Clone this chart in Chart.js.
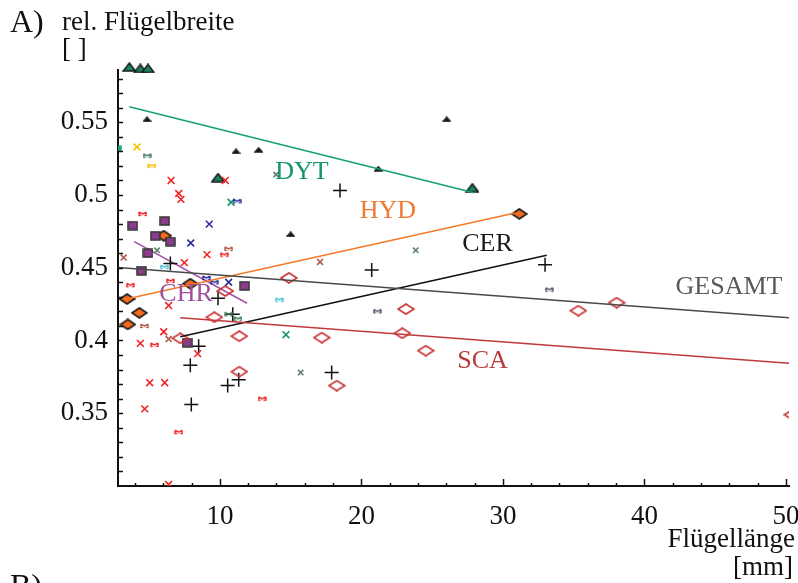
<!DOCTYPE html>
<html lang="de">
<head>
<meta charset="UTF-8">
<title>Relative Flügelbreite gegen Flügellänge</title>
<style>
    * { margin: 0; padding: 0; box-sizing: border-box; }
    body { background: #fff; width: 798px; height: 583px; overflow: hidden; }
    #wrap { position: relative; width: 798px; height: 583px; }
</style>
</head>
<body>
<div id="wrap"><canvas id="wingChart" width="798" height="583"></canvas></div>

<script src="https://cdn.jsdelivr.net/npm/chart.js"></script>
<script>
// Messwerte je Gruppe: [Flügellänge in mm, relative Flügelbreite]
const dytPoints = [[3.60, 0.588], [4.38, 0.587], [4.92, 0.587], [9.87, 0.512], [27.84, 0.505]];
const dytSmall = [[4.85, 0.552], [11.14, 0.530], [12.74, 0.531], [21.20, 0.518], [26.03, 0.552], [15.00, 0.473]];
const dytEdge = [[2.85, 0.532]];
const hydPoints = [[6.03, 0.472], [7.91, 0.439], [3.44, 0.4285], [4.31, 0.419], [3.49, 0.411], [31.16, 0.487]];
const chrPoints = [[3.84, 0.479], [6.10, 0.482], [5.44, 0.472], [6.50, 0.468], [4.92, 0.460], [4.45, 0.448], [11.75, 0.4375], [7.68, 0.3985]];
const cerPoints = [[6.50, 0.453], [9.87, 0.429], [10.91, 0.418], [8.50, 0.396], [7.91, 0.383], [10.55, 0.369], [11.33, 0.373],
                   [7.98, 0.356], [18.49, 0.503], [20.73, 0.4485], [32.98, 0.452], [17.90, 0.378]];
const scaPoints = [[7.20, 0.4015], [9.61, 0.416], [10.38, 0.434], [11.37, 0.403], [11.37, 0.3786], [14.88, 0.443], [17.20, 0.402],
                   [18.26, 0.369], [22.89, 0.405], [23.15, 0.4216], [24.55, 0.393], [35.33, 0.4205], [38.04, 0.426], [50.45, 0.349]];

// übrige Arten ohne eigene Regressionsgerade
const redCross = [[6.55, 0.510], [10.38, 0.510], [7.09, 0.501], [7.25, 0.497], [9.09, 0.459], [7.49, 0.4535], [6.38, 0.424],
                  [6.03, 0.406], [4.38, 0.398], [8.43, 0.391], [5.04, 0.371], [6.10, 0.371], [4.69, 0.353], [6.38, 0.301]];
const redBow = [[4.55, 0.487], [10.31, 0.459], [3.67, 0.438], [6.50, 0.441], [5.37, 0.397], [7.09, 0.337], [12.98, 0.360]];
const blueCross = [[9.25, 0.480], [7.94, 0.467], [10.62, 0.440]];
const blueBow = [[11.21, 0.4957], [9.04, 0.443], [9.61, 0.440]];
const yellowCross = [[4.14, 0.533]];
const yellowBow = [[5.20, 0.520]];
const greenCross = [[10.79, 0.495], [14.67, 0.404]];
const greyGreenCross = [[13.97, 0.514], [5.56, 0.462], [23.84, 0.462], [15.71, 0.378]];
const greenBow = [[10.62, 0.418], [11.28, 0.415], [4.85, 0.527]];
const brownCross = [[3.20, 0.457], [17.08, 0.454], [6.38, 0.401]];
const brownBow = [[10.62, 0.463], [4.66, 0.410]];
const cyanBow = [[6.07, 0.4505], [14.20, 0.428]];
const greyBow = [[21.13, 0.420], [33.28, 0.435]];

// Regressionsgeraden (Anfangs- und Endpunkt)
const lineDyt = [[3.60, 0.5607], [27.96, 0.5016]];
const lineHyd = [[3.32, 0.4283], [30.86, 0.4876]];
const lineCer = [[7.20, 0.4026], [33.10, 0.4586]];
const lineChr = [[3.95, 0.4679], [11.92, 0.4256]];
const lineSca = [[7.20, 0.4157], [50.22, 0.3843]];
const lineGesamt = [[2.80, 0.4502], [50.22, 0.4157]];

// Teilstriche: x alle 2 mm, y alle 0.01
const xTickValues = [4, 6, 8, 10, 12, 14, 16, 18, 20, 22, 24, 26, 28, 30, 32, 34, 36, 38, 40, 42, 44, 46, 48, 50];
const yTickValues = [0.31, 0.32, 0.33, 0.34, 0.35, 0.36, 0.37, 0.38, 0.39, 0.40, 0.41, 0.42, 0.43, 0.44,
                     0.45, 0.46, 0.47, 0.48, 0.49, 0.50, 0.51, 0.52, 0.53, 0.54, 0.55, 0.56, 0.57, 0.58];

const xy = arr => arr.map(p => ({ x: p[0], y: p[1] }));

// kleine Symbole als Canvas, damit sie breiter als hoch sein können
function marker(w, h, draw) {
    const c = document.createElement('canvas');
    c.width = w;
    c.height = h;
    draw(c.getContext('2d'), w, h);
    return c;
}
function triangle(w, h, fill, stroke) {
    return marker(w, h, (g) => {
        g.beginPath();
        g.moveTo(w / 2, 1);
        g.lineTo(w - 1, h - 1);
        g.lineTo(1, h - 1);
        g.closePath();
        g.fillStyle = fill;
        g.fill();
        g.lineWidth = 1.5;
        g.strokeStyle = stroke;
        g.stroke();
    });
}
function diamond(w, h, fill, stroke) {
    return marker(w, h, (g) => {
        g.beginPath();
        g.moveTo(w / 2, 1);
        g.lineTo(w - 1, h / 2);
        g.lineTo(w / 2, h - 1);
        g.lineTo(1, h / 2);
        g.closePath();
        if (fill) { g.fillStyle = fill; g.fill(); }
        g.lineWidth = 1.6;
        g.strokeStyle = stroke;
        g.stroke();
    });
}
function square(w, h, fill, stroke) {
    return marker(w, h, (g) => {
        g.fillStyle = fill;
        g.fillRect(1, 1, w - 2, h - 2);
        g.lineWidth = 1.5;
        g.strokeStyle = stroke;
        g.strokeRect(1, 1, w - 2, h - 2);
    });
}
function bowtie(color) {
    return marker(9, 6, (g, w, h) => {
        g.strokeStyle = color;
        g.lineWidth = 1.4;
        g.beginPath();
        g.moveTo(1, 1); g.lineTo(w - 1, h - 1);
        g.moveTo(1, h - 1); g.lineTo(w - 1, 1);
        g.moveTo(1, 1); g.lineTo(1, h - 1);
        g.moveTo(w - 1, 1); g.lineTo(w - 1, h - 1);
        g.stroke();
    });
}

function pts(data, style, extra) {
    return Object.assign({ data: xy(data), pointStyle: style, pointRadius: 5, showLine: false }, extra || {});
}
function cross(data, color, radius) {
    return pts(data, 'crossRot', { pointRadius: radius || 5, borderColor: color, borderWidth: 1.6 });
}
function regLine(data, color) {
    return { data: xy(data), showLine: true, pointRadius: 0, borderColor: color, borderWidth: 1.5, clip: 0 };
}

const serif = '"Liberation Serif", "DejaVu Serif", serif';

// inwärts gerichtete Teilstriche an beiden Achsen
const inwardTicks = {
    id: 'inwardTicks',
    afterDraw(chart) {
        const { ctx, chartArea: a, scales: { x, y } } = chart;
        ctx.save();
        ctx.strokeStyle = '#111';
        ctx.lineWidth = 1.5;
        xTickValues.forEach(v => {
            const px = Math.round(x.getPixelForValue(v)) + 0.5;
            const len = v % 10 === 0 ? 7 : 3;
            ctx.beginPath();
            ctx.moveTo(px, a.bottom);
            ctx.lineTo(px, a.bottom - len);
            ctx.stroke();
        });
        yTickValues.forEach(v => {
            const py = Math.round(y.getPixelForValue(v)) + 0.5;
            ctx.beginPath();
            ctx.moveTo(a.left, py);
            ctx.lineTo(a.left + 5, py);
            ctx.stroke();
        });
        ctx.restore();
    }
};

// Gruppennamen an den Geraden und Achsenbeschriftung
const groupLabels = [
    { text: 'DYT', x: 15.80, y: 0.5158, color: '#14956b' },
    { text: 'HYD', x: 21.88, y: 0.4890, color: '#f07a30' },
    { text: 'CER', x: 28.91, y: 0.4663, color: '#1a1a1a' },
    { text: 'GESAMT', x: 45.98, y: 0.4368, color: '#5a5a5a' },
    { text: 'SCA', x: 28.56, y: 0.3859, color: '#b83a3a' },
    { text: 'CHR', x: 7.61, y: 0.4320, color: '#a0509e' }
];
const textLayer = {
    id: 'textLayer',
    afterDraw(chart) {
        const { ctx, scales: { x, y } } = chart;
        ctx.save();
        ctx.textBaseline = 'middle';
        ctx.textAlign = 'center';
        ctx.font = '26px ' + serif;
        groupLabels.forEach(l => {
            ctx.fillStyle = l.color;
            ctx.fillText(l.text, x.getPixelForValue(l.x), y.getPixelForValue(l.y));
        });
        ctx.fillStyle = '#111';
        ctx.textBaseline = 'alphabetic';
        ctx.textAlign = 'left';
        ctx.font = '32px ' + serif;
        ctx.fillText('A)', 10, 32);
        ctx.fillText('B)', 10, 596);
        ctx.font = '27px ' + serif;
        ctx.fillText('rel. Flügelbreite', 62, 30);
        ctx.fillText('[ ]', 62, 57);
        ctx.textAlign = 'right';
        ctx.fillText('Flügellänge', 795, 547);
        ctx.fillText('[mm]', 793, 575);
        ctx.restore();
    }
};

const ctx = document.getElementById('wingChart').getContext('2d');
new Chart(ctx, {
    type: 'scatter',
    data: {
        datasets: [
            regLine(lineGesamt, '#4a4a4a'),
            regLine(lineSca, '#c03838'),
            regLine(lineCer, '#111111'),
            regLine(lineHyd, '#f47a28'),
            regLine(lineDyt, '#14a070'),
            cross(redCross, '#f02424', 4.8),
            pts(redBow, bowtie('#f02424')),
            cross(blueCross, '#2c2c9c', 4.8),
            pts(blueBow, bowtie('#2c2c9c')),
            cross(yellowCross, '#f4c400', 4.8),
            pts(yellowBow, bowtie('#f4c400')),
            cross(greenCross, '#16956a', 4.8),
            cross(greyGreenCross, '#5f7f6c', 3.8),
            pts(greenBow, bowtie('#3f7a5a')),
            cross(brownCross, '#b0584a', 4.2),
            pts(brownBow, bowtie('#b0584a')),
            pts(cyanBow, bowtie('#4cc4d8')),
            pts(greyBow, bowtie('#55556a')),
            pts(scaPoints, diamond(18, 12, null, '#c83232'), { clip: 0 }),
            pts(chrPoints, square(11, 10, '#8c3c8c', '#333333')),
            pts(hydPoints, diamond(17, 12, '#f26b1d', '#1a1a1a')),
            pts(cerPoints, 'cross', { pointRadius: 7, borderColor: '#111', borderWidth: 1.5 }),
            pts(dytSmall, triangle(9, 6, '#1a1a1a', '#1a1a1a')),
            pts(dytEdge, square(6, 6, '#18a070', '#18a070')),
            pts(dytPoints, triangle(14, 10, '#17865e', '#1a1a1a'), { clip: false }),
            regLine(lineChr, '#a050a8')
        ]
    },
    options: {
        responsive: false,
        animation: false,
        devicePixelRatio: 1,
        layout: { padding: { top: 70, right: 9, left: 0, bottom: 0 } },
        plugins: { legend: { display: false }, tooltip: { enabled: false } },
        scales: {
            x: {
                type: 'linear',
                min: 2.8,
                max: 50.22,
                afterBuildTicks: s => { s.ticks = xTickValues.map(v => ({ value: v })); },
                afterFit: s => { s.height = 97; s.paddingLeft = 0; s.paddingRight = 0; },
                grid: { display: false, drawTicks: false },
                border: { display: true, color: '#111', width: 2 },
                ticks: {
                    autoSkip: false,
                    maxRotation: 0,
                    padding: 15,
                    color: '#111',
                    font: { family: serif, size: 27 },
                    callback: v => (v % 10 === 0 ? String(v) : '')
                }
            },
            y: {
                type: 'linear',
                min: 0.30,
                max: 0.5859,
                afterBuildTicks: s => { s.ticks = yTickValues.map(v => ({ value: v })); },
                afterFit: s => { s.width = 118; s.paddingTop = 0; s.paddingBottom = 0; },
                grid: { display: false, drawTicks: false },
                border: { display: true, color: '#111', width: 2 },
                ticks: {
                    autoSkip: false,
                    padding: 10,
                    color: '#111',
                    font: { family: serif, size: 27 },
                    callback: v => {
                        const h = Math.round(v * 100);
                        return (h % 5 === 0 && h >= 35) ? String(h / 100) : '';
                    }
                }
            }
        }
    },
    plugins: [inwardTicks, textLayer]
});
</script>
</body>
</html>
